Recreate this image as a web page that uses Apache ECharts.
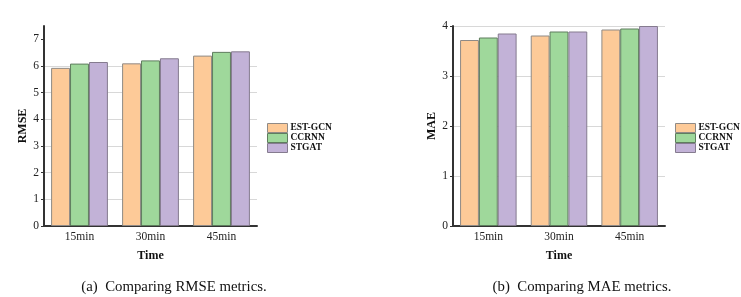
<!DOCTYPE html>
<html><head><meta charset="utf-8">
<script src="https://cdn.jsdelivr.net/npm/echarts@6/dist/echarts.min.js"></script>
<style>html,body{margin:0;padding:0;background:#fff}#c{width:741px;height:297px}</style>
</head><body><div id="c"></div>
<script>
const categories = ['15min', '30min', '45min'];
const seriesNames = ['EST-GCN', 'CCRNN', 'STGAT'];
const rmseEST = [5.93, 6.10, 6.39];
const rmseCCRNN = [6.09, 6.21, 6.53];
const rmseSTGAT = [6.15, 6.29, 6.55];
const maeEST = [3.72, 3.81, 3.93];
const maeCCRNN = [3.77, 3.89, 3.95];
const maeSTGAT = [3.85, 3.89, 4.00];
const rmseTicks = [0, 1, 2, 3, 4, 5, 6, 7];
const maeTicks = [0, 1, 2, 3, 4];
const captions = ['(a)  Comparing RMSE metrics.', '(b)  Comparing MAE metrics.'];

const fills = ['#FDCA98', '#9FD89B', '#C2B2D7'];
const borders = ['#8f8a86', '#5f7d5e', '#857b8f'];
const font = 'Liberation Serif';
const chart = echarts.init(document.getElementById('c'));

function xAxis(gi) {
  return {
    type: 'category', gridIndex: gi, data: categories,
    name: 'Time', nameLocation: 'middle', nameGap: 24,
    nameTextStyle: { fontFamily: font, fontWeight: 'bold', fontSize: 12, color: '#111' },
    axisLine: { lineStyle: { color: '#333', width: 2 } },
    axisTick: { alignWithLabel: true, length: 3, lineStyle: { color: '#333' } },
    axisLabel: { fontFamily: font, fontSize: 11.5, color: '#222', margin: 5 }
  };
}
function yAxis(gi, name, max, ticks) {
  return {
    type: 'value', gridIndex: gi, min: 0, max: max, interval: 1,
    name: name, nameLocation: 'middle', nameGap: 8, nameRotate: 90,
    nameTextStyle: { fontFamily: font, fontWeight: 'bold', fontSize: 12, color: '#111' },
    axisLine: { show: true, lineStyle: { color: '#333', width: 2 } },
    axisTick: { show: true, inside: false, length: 3, customValues: ticks, lineStyle: { color: '#333' } },
    axisLabel: { fontFamily: font, fontSize: 11.5, color: '#222', margin: 5, customValues: ticks },
    splitLine: { show: true, showMaxLine: max === ticks[ticks.length - 1], lineStyle: { color: '#d8d8d8', width: 1 } }
  };
}
function bars(gi, data, i) {
  return {
    type: 'bar', name: seriesNames[i], xAxisIndex: gi, yAxisIndex: gi, data: data,
    barGap: '0%', barCategoryGap: '20%',
    itemStyle: { color: fills[i], borderColor: borders[i], borderWidth: 1 }
  };
}
function legend(left) {
  return {
    left: left, top: 118, orient: 'vertical', itemWidth: 20, itemHeight: 9, itemGap: 0,
    icon: 'rect', data: seriesNames,
    textStyle: { fontFamily: font, fontWeight: 'bold', fontSize: 9.5, color: '#111', padding: [0,0,0,-2] },
    itemStyle: { borderWidth: 1 }
  };
}
chart.setOption({
  animation: false,
  grid: [
    { left: 44, top: 26, width: 213, height: 200 },
    { left: 453, top: 26, width: 212, height: 200 }
  ],
  xAxis: [xAxis(0), xAxis(1)],
  yAxis: [yAxis(0, 'RMSE', 7.5, rmseTicks), yAxis(1, 'MAE', 4, maeTicks)],
  legend: [legend(262), legend(670)],
  series: [
    bars(0, rmseEST, 0), bars(0, rmseCCRNN, 1), bars(0, rmseSTGAT, 2),
    bars(1, maeEST, 0), bars(1, maeCCRNN, 1), bars(1, maeSTGAT, 2)
  ],
  title: [
    { text: captions[0], left: 169, top: 275, textAlign: 'center',
      textStyle: { fontFamily: font, fontWeight: 'normal', fontSize: 14.8, color: '#111' } },
    { text: captions[1], left: 577, top: 275, textAlign: 'center',
      textStyle: { fontFamily: font, fontWeight: 'normal', fontSize: 14.8, color: '#111' } }
  ]
});
</script></body></html>
